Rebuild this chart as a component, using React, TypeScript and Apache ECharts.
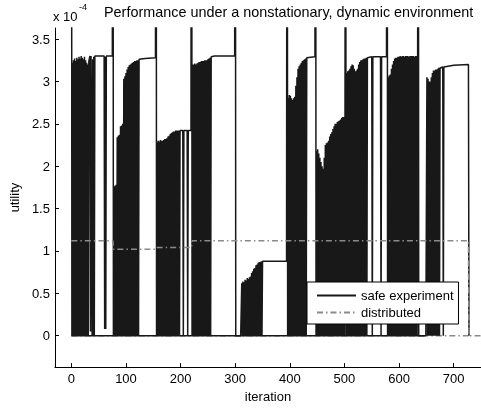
import React, { useEffect, useRef } from "react";
import * as echarts from "echarts";

// values in units of 1e-4
const SPIKE = 10; // transient value far above the axis top
const xTicks = [0, 100, 200, 300, 400, 500, 600, 700];
const yTicks = [0, 0.5, 1, 1.5, 2, 2.5, 3, 3.5];

type Piece = { osc: number; peaks: number[] } | { pts: [number, number][] };

const regime1: Piece[] = [
  { pts: [[0, SPIKE]] },
  { osc: 1, peaks: [3.22, 3.25, 3.27, 3.24, 3.28, 3.26, 3.29, 3.27, 3.3, 3.28, 3.26, 3.29, 3.25, 3.22, 3.2, 3.24] },
  { pts: [[34, 3.3], [35, 0.05], [36, 3.3], [37, 3.3]] },
  { osc: 38, peaks: [3.26, 3.29, 3.3] },
  { pts: [[60, 3.3], [61, 0.08], [62, 3.29], [63, 0.08], [64, 3.3], [75, 3.3]] },
];
const regime2: Piece[] = [
  { pts: [[76, SPIKE]] },
  { osc: 77, peaks: [1.76, 1.77, 1.78, 2.34, 2.36, 2.37, 2.47, 2.48, 2.5, 3.03, 3.06, 3.1, 3.14, 3.17, 3.19, 3.2, 3.21, 3.22, 3.23, 3.24, 3.24, 3.25, 3.25, 3.26] },
  { pts: [[135, 3.27], [154, 3.28]] },
];
const regime3: Piece[] = [
  { pts: [[155, SPIKE]] },
  { osc: 156, peaks: [2.28, 2.3, 2.29, 2.31, 2.3, 2.3, 2.31, 2.32, 2.32, 2.33, 2.35, 2.36, 2.38, 2.39, 2.4, 2.41, 2.41, 2.42, 2.42, 2.42, 2.42, 2.42] },
  { pts: [[204, 2.42], [205, 0], [206, 2.42], [212, 2.42], [213, 0], [214, 2.42], [219, 2.42]] },
];
const regime4: Piece[] = [
  { pts: [[220, SPIKE]] },
  { osc: 221, peaks: [3.2, 3.2, 3.21, 3.2, 3.21, 3.22, 3.23, 3.23, 3.24, 3.24, 3.24, 3.25, 3.25, 3.25, 3.26, 3.27, 3.28, 3.29] },
  { pts: [[262, 3.3], [299, 3.3]] },
];
const regime5: Piece[] = [
  { pts: [[300, SPIKE], [301, 0], [310, 0]] },
  { osc: 311, peaks: [0.62, 0.64, 0.63, 0.66, 0.65, 0.68, 0.67, 0.69, 0.7, 0.74, 0.76, 0.79, 0.8, 0.83, 0.84, 0.86, 0.87, 0.87, 0.88, 0.88] },
  { pts: [[394, 0.88]] },
];
const regime6: Piece[] = [
  { pts: [[395, SPIKE]] },
  { osc: 396, peaks: [2.8, 2.84, 2.83, 2.8, 2.78, 2.8, 2.82, 2.95, 3.05, 3.15, 3.18, 3.2, 3.22, 3.24, 3.25, 3.26, 3.27, 3.28] },
  { pts: [[446, 3.29]] },
];
const regime7: Piece[] = [
  { pts: [[447, SPIKE]] },
  { osc: 448, peaks: [2.18, 2.2, 2.15, 2.1, 2.05, 2.0, 1.97, 2.1, 2.25, 2.27, 2.28, 2.3, 2.35, 2.38, 2.4, 2.44, 2.47, 2.5, 2.5, 2.52, 2.53, 2.54, 2.55, 2.57, 2.58, 2.58, 2.59] },
];
const regime8: Piece[] = [
  { pts: [[502, SPIKE]] },
  { osc: 503, peaks: [3.1, 3.12, 3.13, 3.15, 3.18, 3.2, 3.19, 3.15, 3.12, 3.13, 3.15, 3.2, 3.23, 3.25, 3.25, 3.26, 3.27, 3.27, 3.28, 3.28] },
  { pts: [[550, 3.29], [551, 0], [552, 3.29], [566, 3.29], [567, 0], [568, 3.29], [577, 3.29]] },
];
const regime9: Piece[] = [
  { pts: [[578, SPIKE]] },
  { osc: 579, peaks: [3.05, 3.07, 3.08, 3.15, 3.2, 3.24, 3.27, 3.28, 3.28, 3.29, 3.29, 3.3, 3.29, 3.3, 3.3, 3.29, 3.3, 3.3, 3.3, 3.29, 3.3, 3.3, 3.3, 3.3, 3.29, 3.3, 3.3, 3.3] },
];
const regime10: Piece[] = [
  { pts: [[635, SPIKE], [636, 0], [649, 0]] },
  { osc: 650, peaks: [3.05, 3.03, 3.0, 3.0, 3.05, 3.1, 3.13, 3.13, 3.14, 3.14, 3.15, 3.16, 3.16] },
  { pts: [[680, 3.17], [681, 0], [682, 3.17], [700, 3.19], [727, 3.2], [728, 0]] },
];
const safeBaseline: [number, number][] = [[0, 0], [645, 0]];

const distributed: [number, number][] = [
  [0, 1.12], [76, 1.12], [77, 1.02], [155, 1.02], [156, 1.04], [220, 1.04],
  [221, 1.12], [727, 1.12], [728, 0], [750, 0],
];
const distributedBaseline: [number, number][] = [[0, 0], [727, 0]];

function expand(pieces: Piece[]): [number, number][] {
  const out: [number, number][] = [];
  for (const p of pieces) {
    if ("pts" in p) out.push(...p.pts);
    else
      p.peaks.forEach((v, i) => {
        out.push([p.osc + 2 * i, 0]);
        out.push([p.osc + 2 * i + 1, v]);
      });
  }
  return out;
}

const FONT = "Liberation Sans, Arial, sans-serif";

export default function App() {
  const ref = useRef<HTMLDivElement>(null);
  useEffect(() => {
    if (!ref.current) return;
    const chart = echarts.init(ref.current, undefined, { renderer: "svg" });
    const safe = [regime1, regime2, regime3, regime4, regime5, regime6, regime7, regime8, regime9, regime10]
      .map(expand)
      .flat();
    const safeStyle = { color: "#181818", width: 1.5 };
    const distStyle = { color: "#8a8a8a", width: 1.5, type: [6, 3, 1.5, 3] as any };
    chart.setOption({
      animation: false,
      textStyle: { fontFamily: FONT },
      title: {
        text: "Performance under a nonstationary, dynamic environment",
        left: 104,
        top: 5,
        padding: 0,
        textStyle: { fontSize: 14.4, fontWeight: "normal", color: "#000", fontFamily: FONT },
      },
      graphic: [
        { type: "text", left: 53, top: 10, style: { text: "x 10", font: `13px ${FONT}`, fill: "#000" } },
        { type: "text", left: 79, top: 2, style: { text: "-4", font: `9px ${FONT}`, fill: "#000" } },
      ],
      legend: {
        orient: "vertical",
        left: 307,
        top: 282,
        data: ["safe experiment", "distributed"],
        itemWidth: 39,
        itemHeight: 12,
        itemGap: 4,
        padding: [7, 5, 5, 9],
        backgroundColor: "#fff",
        borderColor: "#000",
        borderWidth: 1,
        borderRadius: 0,
        selectedMode: false,
        itemStyle: { color: "transparent", borderWidth: 0, opacity: 0 },
        textStyle: { fontSize: 13, color: "#000", fontFamily: FONT },
      },
      grid: { left: 53, right: 0, top: 28, bottom: 37 },
      xAxis: {
        type: "value",
        min: -30,
        max: 750,
        name: "iteration",
        nameLocation: "middle",
        nameGap: 20,
        nameTextStyle: { fontSize: 13, color: "#000", fontFamily: FONT },
        axisLine: { onZero: false, lineStyle: { color: "#000", width: 1 } },
        axisTick: { inside: true, length: 4, customValues: xTicks, lineStyle: { color: "#000" } },
        axisLabel: { customValues: xTicks, color: "#000", fontSize: 13, margin: 5, fontFamily: FONT },
        splitLine: { show: false },
      },
      yAxis: {
        type: "value",
        min: -0.37,
        max: 3.63,
        name: "utility",
        nameLocation: "middle",
        nameGap: 25,
        nameTextStyle: { fontSize: 13, color: "#000", fontFamily: FONT },
        axisLine: { onZero: false, lineStyle: { color: "#000", width: 1 } },
        axisTick: { inside: true, length: 4, customValues: yTicks, lineStyle: { color: "#000" } },
        axisLabel: { customValues: yTicks, color: "#000", fontSize: 13, margin: 5, fontFamily: FONT },
        splitLine: { show: false },
      },
      series: [
        { name: "distributed", type: "line", data: distributedBaseline, symbol: "none", lineStyle: distStyle, itemStyle: { color: "#8a8a8a" } },
        { name: "safe experiment", type: "line", data: safe, symbol: "none", lineStyle: safeStyle, itemStyle: { color: "#181818" } },
        { name: "safe experiment", type: "line", data: safeBaseline, symbol: "none", lineStyle: safeStyle, itemStyle: { color: "#181818" } },
        { name: "distributed", type: "line", data: distributed, symbol: "none", lineStyle: distStyle, itemStyle: { color: "#8a8a8a" } },
      ],
    });
    return () => chart.dispose();
  }, []);
  return <div ref={ref} style={{ position: "fixed", left: 0, top: 0, width: 481, height: 408 }} />;
}
